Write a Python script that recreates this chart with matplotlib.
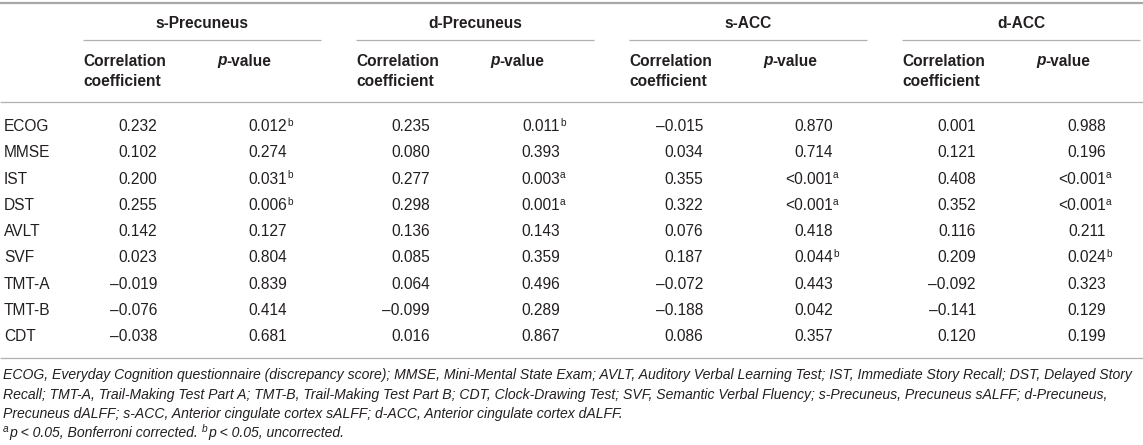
import matplotlib
matplotlib.use('Agg')
import matplotlib.pyplot as plt

# === Table content ===
tests = ['ECOG', 'MMSE', 'IST', 'DST', 'AVLT', 'SVF', 'TMT-A', 'TMT-B', 'CDT']
regions = ['s-Precuneus', 'd-Precuneus', 's-ACC', 'd-ACC']

r_s_prec = [0.232, 0.102, 0.200, 0.255, 0.142, 0.023, -0.019, -0.076, -0.038]
p_s_prec = ['0.012', '0.274', '0.031', '0.006', '0.127', '0.804', '0.839', '0.414', '0.681']
sig_s_prec = ['b', '', 'b', 'b', '', '', '', '', '']

r_d_prec = [0.235, 0.080, 0.277, 0.298, 0.136, 0.085, 0.064, -0.099, 0.016]
p_d_prec = ['0.011', '0.393', '0.003', '0.001', '0.143', '0.359', '0.496', '0.289', '0.867']
sig_d_prec = ['b', '', 'a', 'a', '', '', '', '', '']

r_s_acc = [-0.015, 0.034, 0.355, 0.322, 0.076, 0.187, -0.072, -0.188, 0.086]
p_s_acc = ['0.870', '0.714', '<0.001', '<0.001', '0.418', '0.044', '0.443', '0.042', '0.357']
sig_s_acc = ['', '', 'a', 'a', '', 'b', '', '', '']

r_d_acc = [0.001, 0.121, 0.408, 0.352, 0.116, 0.209, -0.092, -0.141, 0.120]
p_d_acc = ['0.988', '0.196', '<0.001', '<0.001', '0.211', '0.024', '0.323', '0.129', '0.199']
sig_d_acc = ['', '', 'a', 'a', '', 'b', '', '', '']

footnote_lines = [
    "ECOG, Everyday Cognition questionnaire (discrepancy score); MMSE, Mini-Mental State Exam; "
    "AVLT, Auditory Verbal Learning Test; IST, Immediate Story Recall; DST, Delayed Story",
    "Recall; TMT-A, Trail-Making Test Part A; TMT-B, Trail-Making Test Part B; CDT, Clock-Drawing Test; "
    "SVF, Semantic Verbal Fluency; s-Precuneus, Precuneus sALFF; d-Precuneus,",
    "Precuneus dALFF; s-ACC, Anterior cingulate cortex sALFF; d-ACC, Anterior cingulate cortex dALFF.",
]
sig_notes = [('a', 'p < 0.05, Bonferroni corrected.'), ('b', 'p < 0.05, uncorrected.')]

# === Layout (pixels, y downward) ===
W, H, DPI = 1143, 445, 100
TXT = '#231f20'
RULE = '#b0b0b0'
FS = 11.2
FS_SUP = 7.3
FS_FOOT = 10.05

GX0, GSTEP, GW = 83, 273, 238      # group start, spacing, underline width
ROW0, ROW_STEP = 131.0, 26.3      # first data baseline, row spacing

plt.rcParams['font.family'] = ['Liberation Sans', 'DejaVu Sans']

fig = plt.figure(figsize=(W / DPI, H / DPI), dpi=DPI)
ax = fig.add_axes([0, 0, 1, 1])
ax.set_xlim(0, W)
ax.set_ylim(H, 0)
ax.axis('off')

# rules
ax.hlines(2.7, 0, W, color='#a8a8a8', lw=1.6)
ax.hlines(102, 0, W, color=RULE, lw=0.9)
ax.hlines(358, 0, W, color=RULE, lw=0.9)


def fmt_r(v):
    return f"{v:.3f}".replace('-', '\u2013')


def sup(artist, mark):
    ax.annotate(mark, xy=(1, 1), xycoords=artist, xytext=(0.0, 0.8),
                textcoords='offset points', ha='left', va='top',
                fontsize=FS_SUP, color=TXT)


r_cols = [r_s_prec, r_d_prec, r_s_acc, r_d_acc]
p_cols = [p_s_prec, p_d_prec, p_s_acc, p_d_acc]
s_cols = [sig_s_prec, sig_d_prec, sig_s_acc, sig_d_acc]

for g, name in enumerate(regions):
    x0 = GX0 + GSTEP * g
    # group header + underline
    ax.text(x0 + GW / 2, 28.5, name, ha='center', va='baseline',
            fontsize=FS, fontweight='bold', color=TXT)
    ax.hlines(40, x0, min(x0 + GW, W), color=RULE, lw=0.9)
    # sub headers
    ax.text(x0, 65.5, 'Correlation', ha='left', va='baseline',
            fontsize=FS, fontweight='bold', color=TXT)
    ax.text(x0, 86.5, 'coefficient', ha='left', va='baseline',
            fontsize=FS, fontweight='bold', color=TXT)
    tp = ax.text(x0 + 134, 65.5, 'p', ha='left', va='baseline', fontsize=FS,
                 fontweight='bold', fontstyle='italic', color=TXT)
    ax.annotate('-value', xy=(1, 0), xycoords=tp, ha='left', va='bottom',
                fontsize=FS, fontweight='bold', color=TXT)

    # values
    for i in range(len(tests)):
        y = ROW0 + ROW_STEP * i
        ax.text(x0 + 74, y, fmt_r(r_cols[g][i]), ha='right', va='baseline',
                fontsize=FS, color=TXT)
        t = ax.text(x0 + 204, y, p_cols[g][i], ha='right', va='baseline',
                    fontsize=FS, color=TXT)
        if s_cols[g][i]:
            sup(t, s_cols[g][i])

# row labels
for i, name in enumerate(tests):
    ax.text(4, ROW0 + ROW_STEP * i, name, ha='left', va='baseline',
            fontsize=FS, color=TXT)

# footnotes
for k, line in enumerate(footnote_lines):
    ax.text(3, 379 + 19.5 * k, line, ha='left', va='baseline',
            fontsize=FS_FOOT, fontstyle='italic', color=TXT)

yb = 379 + 19.5 * 3
prev = None
for mark, note in sig_notes:
    if prev is None:
        m = ax.text(3, yb - 5, mark, ha='left', va='baseline',
                    fontsize=FS_SUP, fontstyle='italic', color=TXT)
    else:
        m = ax.annotate(mark, xy=(1, yb - 5), xycoords=(prev, 'data'),
                        xytext=(3, 0), textcoords='offset points',
                        ha='left', va='baseline', fontsize=FS_SUP,
                        fontstyle='italic', color=TXT)
    prev = ax.annotate(note, xy=(1, yb), xycoords=(m, 'data'),
                       xytext=(0.3, 0), textcoords='offset points',
                       ha='left', va='baseline', fontsize=FS_FOOT,
                       fontstyle='italic', color=TXT)

fig.savefig('out.png', dpi=DPI, facecolor='white')
